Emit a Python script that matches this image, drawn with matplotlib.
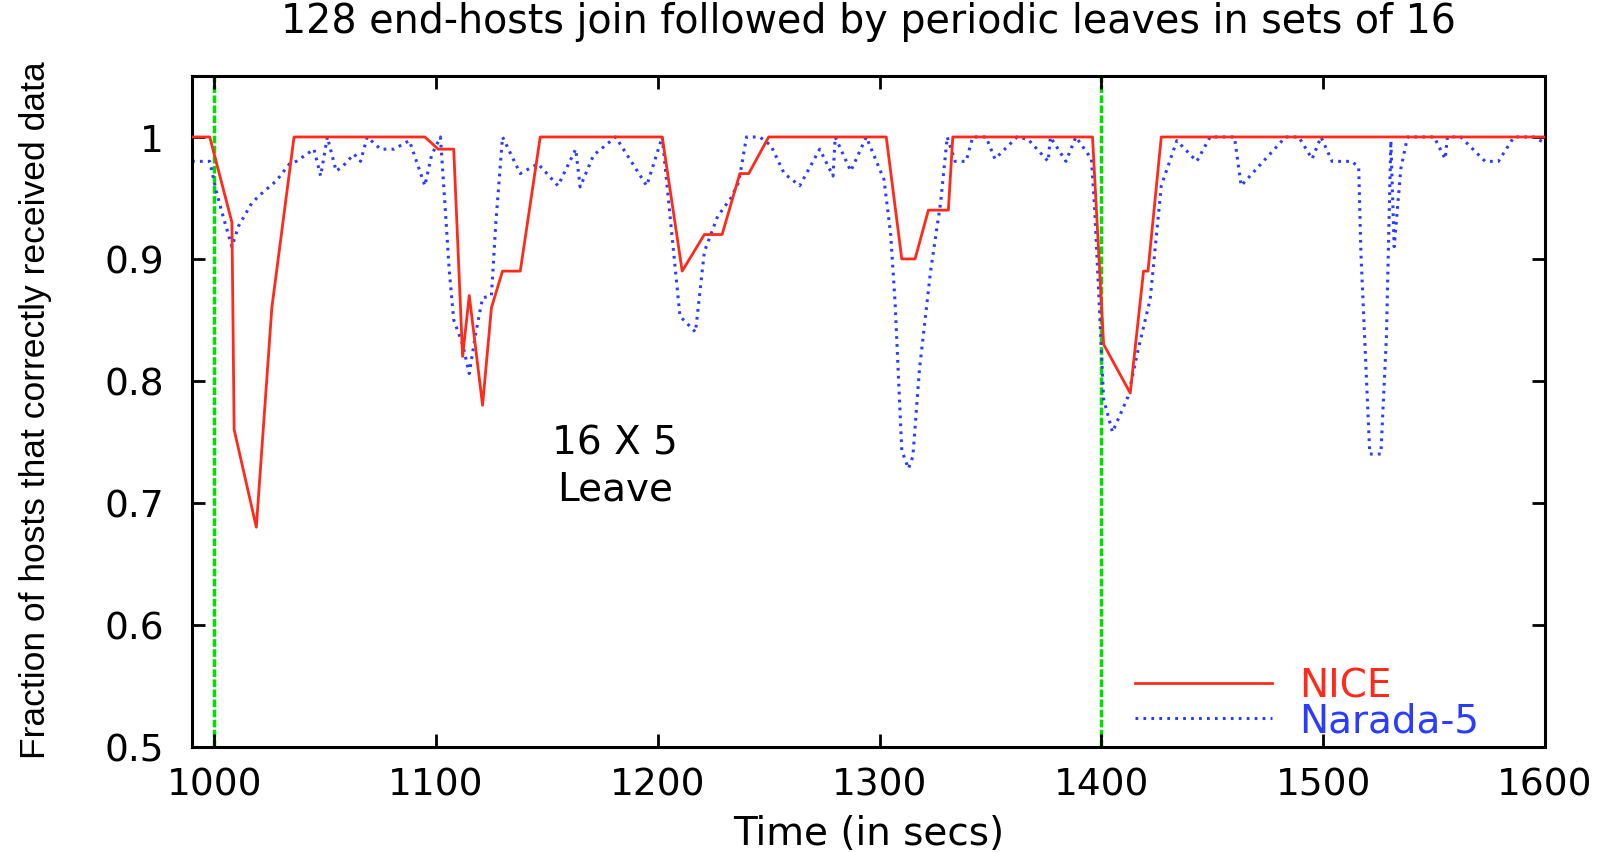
import matplotlib
matplotlib.use("Agg")
import matplotlib.pyplot as plt

# NICE (solid red)
nice_t = [990, 998, 1008, 1009, 1019, 1026, 1036, 1095, 1101, 1108, 1112, 1115,
          1121, 1125, 1130, 1138, 1147, 1202, 1211, 1221, 1229, 1237, 1241, 1250,
          1303, 1310, 1316, 1322, 1331, 1333, 1396, 1401, 1413, 1419, 1421, 1427, 1600]
nice_y = [1.0, 1.0, 0.93, 0.76, 0.68, 0.86, 1.0, 1.0, 0.99, 0.99, 0.82, 0.87,
          0.78, 0.86, 0.89, 0.89, 1.0, 1.0, 0.89, 0.92, 0.92, 0.97, 0.97, 1.0,
          1.0, 0.90, 0.90, 0.94, 0.94, 1.0, 1.0, 0.83, 0.79, 0.89, 0.89, 1.0, 1.0]

# Narada-5 (dotted blue)
narada_t = [990, 998, 1001, 1004, 1008, 1011, 1017, 1021, 1028, 1034, 1037, 1045,
            1048, 1051, 1055, 1058, 1063, 1066, 1069, 1075, 1081, 1088, 1095, 1098,
            1102, 1104, 1106, 1108, 1112, 1115, 1118, 1121, 1125, 1127, 1130, 1138,
            1146, 1155, 1163, 1165, 1171, 1181, 1195, 1202, 1210, 1217, 1221, 1227,
            1233, 1236.5, 1240, 1246, 1251, 1257, 1264, 1273, 1279, 1280, 1287, 1294,
            1302, 1305, 1307, 1310, 1313, 1315, 1318, 1323, 1327.5, 1330.5, 1334, 1339,
            1342, 1348, 1352, 1362, 1367, 1376, 1377, 1384, 1388.5, 1395.5, 1397, 1399,
            1401, 1405, 1412, 1416.5, 1422, 1427, 1434, 1443, 1449, 1460, 1463, 1472,
            1483, 1489, 1495, 1499, 1504, 1513, 1516, 1517, 1521, 1526, 1528.5, 1530.5,
            1532, 1535, 1538, 1550, 1555, 1556, 1562, 1573, 1579, 1586, 1595, 1600]
narada_y = [0.98, 0.98, 0.955, 0.935, 0.91, 0.927, 0.946, 0.953, 0.964, 0.978, 0.98, 0.99,
            0.968, 1.0, 0.972, 0.976, 0.986, 0.98, 1.0, 0.99, 0.99, 0.997, 0.96, 0.985,
            1.0, 0.946, 0.89, 0.85, 0.83, 0.806, 0.84, 0.868, 0.87, 0.93, 1.0, 0.97,
            0.978, 0.96, 0.99, 0.959, 0.985, 1.0, 0.96, 1.0, 0.853, 0.84, 0.906, 0.935,
            0.95, 0.963, 1.0, 1.0, 0.993, 0.97, 0.96, 0.99, 0.968, 1.0, 0.972, 1.0,
            0.965, 0.92, 0.864, 0.743, 0.728, 0.738, 0.81, 0.89, 0.946, 1.0, 0.98, 0.98,
            1.0, 1.0, 0.982, 1.0, 0.998, 0.98, 1.0, 0.98, 1.0, 0.982, 0.94, 0.864,
            0.785, 0.758, 0.787, 0.825, 0.867, 0.96, 0.997, 0.98, 1.0, 1.0, 0.96, 0.978,
            1.0, 1.0, 0.982, 1.0, 0.98, 0.98, 0.975, 0.905, 0.74, 0.74, 0.836, 0.997,
            0.91, 0.974, 1.0, 1.0, 0.982, 1.0, 1.0, 0.98, 0.98, 1.0, 1.0, 0.995]

leave_times = [1000, 1400]
xticks = [1000, 1100, 1200, 1300, 1400, 1500, 1600]
yticks = [0.5, 0.6, 0.7, 0.8, 0.9, 1.0]
ytick_labels = ["0.5", "0.6", "0.7", "0.8", "0.9", "1"]

plt.rcParams['font.family'] = ['DejaVu Sans']

fig = plt.figure(figsize=(16.04, 8.53), dpi=100)
ax = fig.add_axes([192 / 1604, 1 - 747.7 / 853, 1353 / 1604, 670.7 / 853])

for t in leave_times:
    ax.axvline(t, color='#00e000', lw=2.5, linestyle=(0, (2.2, 0.7)), zorder=1)

ax.plot(nice_t, nice_y, color='#ff2a1a', lw=2.0, label='NICE', zorder=3)
ax.plot(narada_t, narada_y, color='#2a3cff', lw=2.2, linestyle=(0, (0.9, 1.7)),
        label='Narada-5', zorder=2)

ax.set_xlim(990, 1600)
ax.set_ylim(0.5, 1.05)
ax.set_xticks(xticks)
ax.set_xticklabels([str(x) for x in xticks])
ax.set_yticks(yticks)
ax.set_yticklabels(ytick_labels)
ax.tick_params(direction='in', length=9.4, width=2, top=True, right=True,
               labelsize=27)
ax.tick_params(axis='y', pad=20)
ax.tick_params(axis='x', pad=14)
for sp in ax.spines.values():
    sp.set_linewidth(2.2)

ax.text(1180.8, 0.7305, "16 X 5\nLeave", ha='center', va='center',
        multialignment='center', linespacing=1.25, fontsize=28)

ax.legend(loc='center left', bbox_to_anchor=(0.697, 0.065), frameon=False,
          fontsize=28, handlelength=3.52, handletextpad=0.7, labelspacing=-0.08,
          borderpad=0, borderaxespad=0, labelcolor='linecolor')

fig.text(868 / 1604, 1 - 22.5 / 853,
         "128 end-hosts join followed by periodic leaves in sets of 16",
         ha='center', va='center', fontsize=28.5)
fig.text(869 / 1604, 1 - 834 / 853, "Time (in secs)", ha='center', va='center',
         fontsize=28)

# tall, narrow-looking axis label
fig.text(36 / 1604, 1 - 410 / 853, "Fraction of hosts that correctly received data",
         ha='center', va='center', rotation=90, fontsize=25.5,
         family=['Liberation Sans', 'DejaVu Sans'])

fig.savefig("out.png", dpi=100)
